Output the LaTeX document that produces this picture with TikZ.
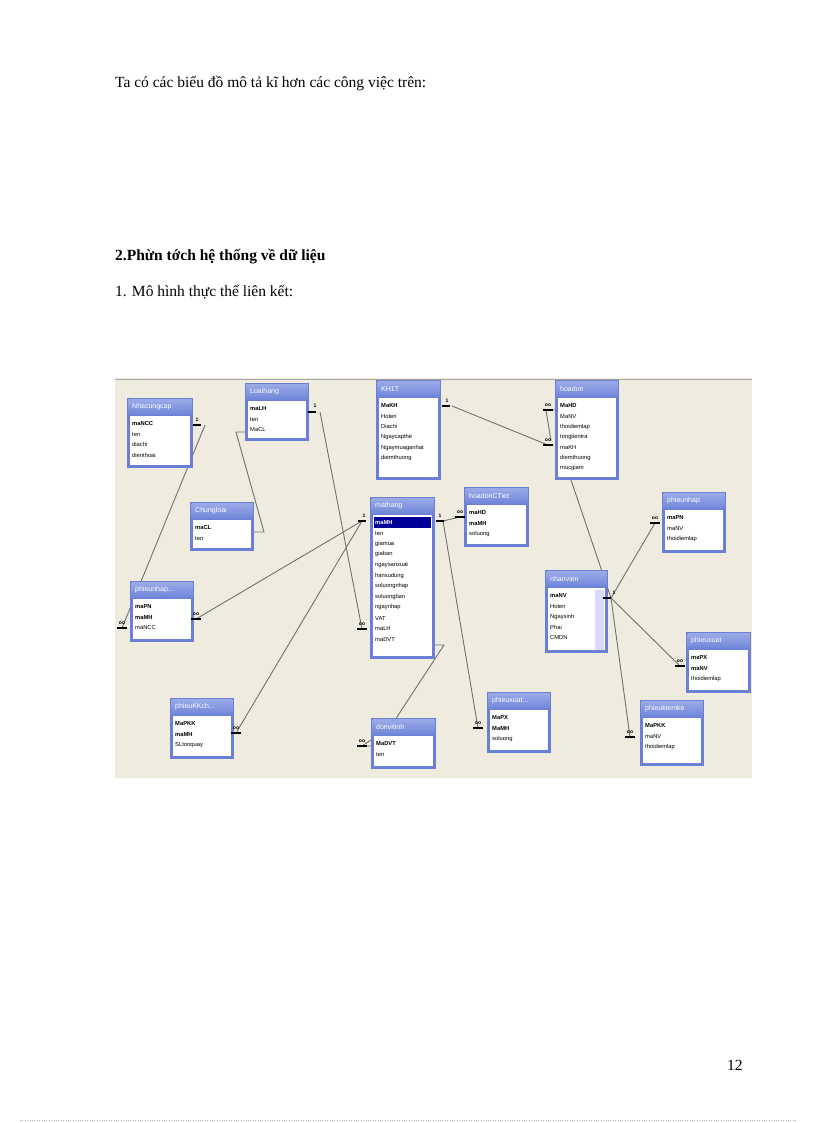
\documentclass[tikz,border=0pt]{standalone}
\usepackage{fontspec}
\usetikzlibrary{calc}
\setmainfont{Liberation Serif}
\newfontfamily\tabfont{Liberation Sans}
\begin{document}
\begin{tikzpicture}[x=1pt,y=-1pt]
\definecolor{bg}{HTML}{EFECDF}
\definecolor{hdr}{HTML}{6F86D8}
\definecolor{hdrl}{HTML}{9AAAE8}
\definecolor{bdr}{HTML}{6A7FD6}
\definecolor{ln}{HTML}{707070}
\tikzset{rel/.style={draw=ln,line width=0.9pt},
  ptxt/.style={font=\fontsize{15.5}{18}\selectfont,anchor=base west,inner sep=0},
  mk/.style={font=\tabfont\fontsize{5}{5}\selectfont\bfseries,inner sep=0}}
\useasboundingbox (0,0) rectangle (816,1123);
\fill[white] (0,0) rectangle (816,1123);
\node[ptxt] (t1) at (115,88) {Ta có các biểu đồ mô tả kĩ hơn các công việc trên:};
\node[ptxt,font=\fontsize{15.5}{18}\selectfont\bfseries] (t2) at (115,260) {2.Phừn tớch hệ thống về dữ liệu};
\node[ptxt] (t3) at (115,296) {1. Mô hình thực thể liên kết:};
\node[ptxt] (pg) at (727,1070) {12};
\draw[dotted,gray!60] (20,1120) -- (796,1120);
\fill[bg] (115,378) rectangle (752,778);
\draw[gray!70,line width=1pt] (115,379) -- (752,379);
% connector end points
\coordinate (a1) at (205,425); \coordinate (a2) at (122,628);
\coordinate (b1) at (320,412); \coordinate (b2) at (362,629);
\coordinate (c1) at (452,406); \coordinate (c2) at (548,445);
\coordinate (d1) at (362,521); \coordinate (d2) at (196,619); \coordinate (d3) at (236,733);
\coordinate (e1) at (443,521); \coordinate (e2) at (460,517); \coordinate (e3) at (478,728);
\coordinate (n1) at (611,598); \coordinate (n2) at (655,523); \coordinate (n3) at (680,666); \coordinate (n4) at (630,737); \coordinate (n5) at (571,480);
\draw[rel] (a1) -- (a2); \draw[rel] (b1) -- (b2); \draw[rel] (c1) -- (c2);
\draw[rel] (d1) -- (d2); \draw[rel] (d1) -- (d3);
\draw[rel] (e1) -- (e2); \draw[rel] (e1) -- (e3);
\draw[rel] (n1) -- (n2); \draw[rel] (n1) -- (n3); \draw[rel] (n1) -- (n4); \draw[rel] (n1) -- (n5);
\draw[rel] (245,432) -- (236,432) -- (264,532) -- (254,532);
\draw[rel] (555,410) -- (546,410) -- (551,441);
\draw[rel] (435,645) -- (444,645) -- (378,746) -- (362,746) -- (371,740);
% entity macro
\newcommand\erent[7]{%
  \fill[bdr] (#2,#3) rectangle ++(#4,#5);
  \shade[top color=hdrl,bottom color=hdr] (#2+1.5,#3+1.5) rectangle ++(#4-3,15);
  \fill[white] (#2+3,#3+18) rectangle (#2+#4-3,#3+#5-3);
  \node[anchor=west,text=white,font=\tabfont\fontsize{7}{7}\selectfont,inner sep=0] (#1h) at (#2+5,#3+9) {#6};
  \coordinate (#1) at (#2,#3);
  \foreach \r [count=\i] in {#7} {
    \node[anchor=west,font=\tabfont\fontsize{5.8}{6}\selectfont,inner sep=0] at (#2+5,#3+15.5+\i*10.4) {\r};
  }}
\erent{nc}{127}{398}{66}{70}{Nhacungcap}{\textbf{maNCC},ten,diachi,dienthoai}
\erent{lh}{245}{383}{64}{58}{Loaihang}{\textbf{maLH},ten,MaCL}
\erent{kh}{376}{380}{65}{100}{KH1T}{\textbf{MaKH},Hoten,Diachi,Ngaycapthe,Ngaymuaganhat,diemthuong}
\erent{hd}{555}{380}{64}{100}{hoadon}{\textbf{MaHD},MaNV,thoidiemlap,tongtientra,maKH,diemthuong,mucgiam}
\erent{cl}{190}{502}{64}{49}{Chungloai}{\textbf{maCL},ten}
\fill[bdr] (370,497) rectangle ++(65,162);
\fill[white] (373,515) rectangle (432,656);
\shade[top color=hdrl,bottom color=hdr] (371.5,498.5) rectangle ++(62,15);
\node[anchor=west,text=white,font=\tabfont\fontsize{7}{7}\selectfont,inner sep=0] (mhh) at (375,506) {mathang};
\fill[blue!60!black] (374,517) rectangle (431,528);
\foreach \r [count=\i] in {\textcolor{white}{\textbf{maMH}},ten,giamua,giaban,ngaysanxuat,hansudung,soluongnhap,soluongban,ngaynhap,VAT,maLH,maDVT}
  \node[anchor=west,font=\tabfont\fontsize{5.8}{6}\selectfont,inner sep=0] at (375,512+\i*10.6) {\r};
\erent{ct}{464}{487}{65}{60}{hoadonCTiet}{\textbf{maHD},\textbf{maMH},soluong}
\erent{pn}{662}{492}{64}{61}{phieunhap}{\textbf{maPN},maNV,thoidiemlap}
\erent{pl}{130}{581}{64}{61}{phieunhap...}{\textbf{maPN},\textbf{maMH},maNCC}
\erent{nv}{545}{570}{63}{83}{nhanvien}{\textbf{maNV},Hoten,Ngaysinh,Phai,CMDN}
\fill[blue!15] (595,590) rectangle (604,650);
\erent{px}{686}{632}{65}{61}{phieuxuat}{\textbf{maPX},\textbf{maNV},thoidiemlap}
\erent{kk}{170}{698}{64}{61}{phieuKKch...}{\textbf{MaPKK},\textbf{maMH},SLtonquay}
\erent{pm}{487}{692}{64}{61}{phieuxuat...}{\textbf{MaPX},\textbf{MaMH},soluong}
\erent{ke}{640}{700}{64}{66}{phieukiemke}{\textbf{MaPKK},maNV,thoidiemlap}
\erent{dv}{371}{718}{65}{51}{donvitinh}{\textbf{MaDVT},ten}
% end marks
\foreach \p/\dx in {a1/-8,b1/-8,c1/-6,d1/0,e1/-3,n1/-4}
  \draw[black,line width=1.6pt] ($(\p)+(\dx-4,0)$) -- ++(8,0);
\node[mk] (m1) at (197,420) {1}; \node[mk] (m2) at (315,406) {1}; \node[mk] (m3) at (447,401) {1};
\node[mk] (m4) at (364,516) {1}; \node[mk] (m5) at (440,516) {1}; \node[mk] (m6) at (614,593) {1};
\foreach \x/\y in {122/628,362/629,548/445,548/410,196/619,236/733,460/517,478/728,655/523,680/666,630/737,362/746}{
  \draw[black,line width=1.6pt] (\x-5,\y) -- (\x+5,\y);
  \node[mk] at (\x,\y-5) {oo};}
\end{tikzpicture}
\end{document}
